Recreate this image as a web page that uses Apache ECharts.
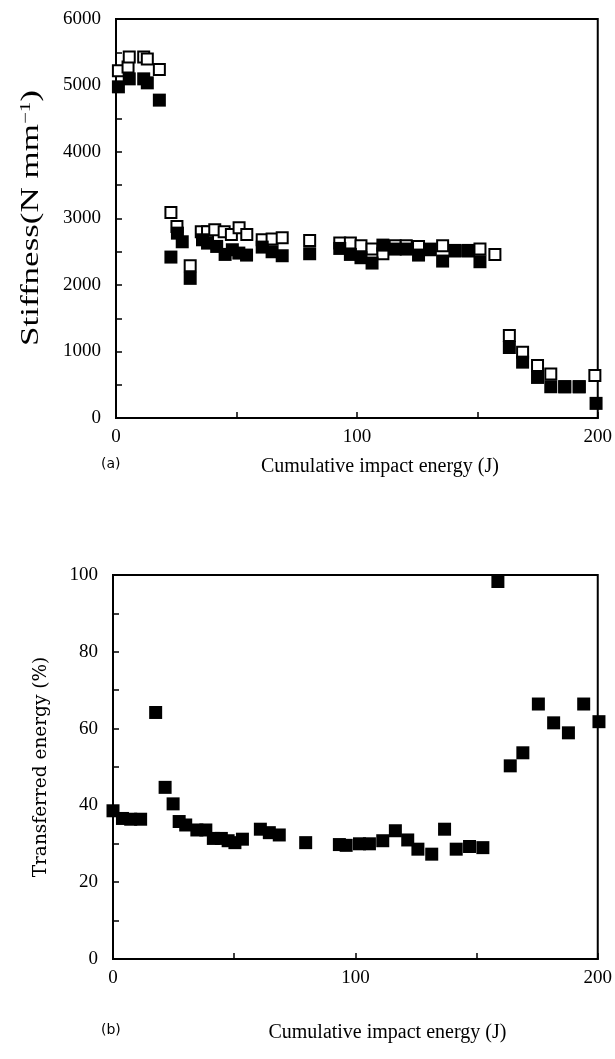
<!DOCTYPE html>
<html>
<head>
<meta charset="utf-8">
<script src="https://cdn.jsdelivr.net/npm/echarts@6/dist/echarts.min.js"></script>
<style>
html,body{margin:0;padding:0;background:#fff;}
#chart{width:615px;height:1059px;}
</style>
</head>
<body>
<div id="chart"></div>
<script>
// Panel (a): stiffness vs cumulative impact energy
const stiffnessOpen = [
  [1,5220],[5,5280],[5.5,5430],[11.5,5430],[13,5400],[18,5240],
  [22.8,3090],[25.3,2880],[30.8,2290],[35.4,2800],[38,2800],[41,2830],[44.9,2800],[47.9,2760],[51.1,2860],[54.3,2760],
  [60.7,2680],[64.8,2690],[69,2710],[80.4,2670],[92.9,2630],[97.3,2630],[101.7,2590],[106.3,2540],[110.8,2470],
  [115.9,2590],[120.5,2590],[125.6,2580],[130.4,2530],[135.6,2590],[140.8,2510],[146.3,2510],[151.1,2540],[157.3,2460],
  [163.3,1240],[168.8,990],[175,790],[180.5,660],[186.3,470],[192.3,470],[198.8,640]
];
const stiffnessFilled = [
  [1,4980],[5.5,5100],[11.5,5100],[13,5040],[18,4780],
  [22.8,2420],[25.5,2780],[27.5,2650],[30.8,2100],[35.9,2680],[38,2630],[41.8,2580],[45.3,2460],[48.3,2530],[51,2480],[54.2,2450],
  [60.7,2570],[64.8,2500],[69,2440],[80.4,2470],[92.9,2550],[97.3,2460],[101.7,2410],[106.3,2330],[110.8,2600],
  [115.9,2540],[120.5,2540],[125.6,2450],[130.4,2540],[135.6,2360],[140.8,2520],[146.3,2520],[151.1,2350],
  [163.3,1060],[168.8,840],[175,610],[180.5,470],[186.3,470],[192.3,470],[199.3,220]
];
// Panel (b): transferred energy vs cumulative impact energy
const transferred = [
  [0,38.6],[3.9,36.6],[7.3,36.4],[11.4,36.4],[17.6,64.2],[21.5,44.7],[24.8,40.4],[27.3,35.8],[30,34.9],
  [34.6,33.6],[38.3,33.6],[41.4,31.4],[44.7,31.4],[47.5,30.8],[50.3,30.3],[53.4,31.2],[60.8,33.8],[64.5,32.9],
  [68.6,32.3],[79.5,30.3],[93.4,29.8],[96.2,29.6],[101.7,30],[105.8,30],[111.3,30.8],[116.5,33.4],[121.6,31],
  [125.8,28.6],[131.5,27.3],[136.8,33.8],[141.6,28.6],[147.1,29.3],[152.6,29],[158.8,98.3],[163.9,50.3],
  [169.1,53.7],[175.5,66.4],[181.8,61.5],[187.9,58.9],[194.2,66.4],[200.5,61.8]
];
const xTitle = 'Cumulative impact energy (J)';
const yTitleA = ['Stiffness(N mm', '\u22121', ')'];
const yTitleB = 'Transferred energy (%)';
const panelTags = ['(a)', '(b)'];

const serif = 'Liberation Serif';
const chart = echarts.init(document.getElementById('chart'), null, {renderer:'canvas'});

function xAxis(gridIndex, gap, padLeft){
  return {
    gridIndex, type:'value', min:0, max:200, interval:100,
    name:xTitle, nameLocation:'middle', nameGap:gap,
    nameTextStyle:{fontFamily:serif, fontSize:20, color:'#000', padding:[0,0,0,padLeft]},
    axisLine:{show:true, onZero:false, lineStyle:{color:'#000', width:2}},
    axisTick:{show:true, inside:true, length:6, lineStyle:{color:'#000', width:1.5}},
    minorTick:{show:true, splitNumber:2, length:6, lineStyle:{color:'#000', width:1.5}},
    axisLabel:{fontFamily:serif, fontSize:19, color:'#000', margin:10, formatter:(v)=>String(v)},
    splitLine:{show:false}, minorSplitLine:{show:false}
  };
}
function yAxis(gridIndex, max, interval, name, gap, font, fs){
  return {
    gridIndex, type:'value', min:0, max, interval,
    name, nameLocation:'middle', nameGap:gap,
    nameTextStyle:{fontFamily:font, fontSize:fs, color:'#000'},
    axisLine:{show:true, onZero:false, lineStyle:{color:'#000', width:2}},
    axisTick:{show:true, inside:true, length:6, lineStyle:{color:'#000', width:1.5}},
    minorTick:{show:true, splitNumber:2, length:6, lineStyle:{color:'#000', width:1.5}},
    axisLabel:{fontFamily:serif, fontSize:19, color:'#000', margin:15, formatter:(v)=>String(v)},
    splitLine:{show:false}, minorSplitLine:{show:false}
  };
}

chart.setOption({
  animation:false,
  backgroundColor:'#fff',
  grid:[
    {left:116, top:19, width:482, height:399, show:true, borderColor:'#000', borderWidth:2},
    {left:113, top:575, width:486, height:384, show:true, borderColor:'#000', borderWidth:2}
  ],
  xAxis:[ xAxis(0, 39, 46), xAxis(1, 64, 64) ],
  yAxis:[
    yAxis(0, 6000, 1000, '', 74, serif, 21),
    yAxis(1, 100, 20, yTitleB, 62, 'DejaVu Serif', 18.5)
  ],
  series:[
    {type:'scatter', xAxisIndex:0, yAxisIndex:0, data:stiffnessOpen, symbol:'rect', symbolSize:11, clip:false,
      itemStyle:{color:'#fff', borderColor:'#000', borderWidth:2, opacity:1}},
    {type:'scatter', xAxisIndex:0, yAxisIndex:0, data:stiffnessFilled, symbol:'rect', symbolSize:13, clip:false,
      itemStyle:{color:'#000', opacity:1}},
    {type:'scatter', xAxisIndex:1, yAxisIndex:1, data:transferred, symbol:'rect', symbolSize:13, clip:false,
      itemStyle:{color:'#000', opacity:1}}
  ],
  graphic:[
    {type:'text', x:31, y:218, rotation:Math.PI/2, scaleX:1.4, scaleY:1,
      style:{
        text:'{a|' + yTitleA[0] + '}{s|' + yTitleA[1] + '}{a|' + yTitleA[2] + '}',
        align:'center', verticalAlign:'middle',
        rich:{
          a:{fontFamily:serif, fontSize:25, fill:'#000', color:'#000'},
          s:{fontFamily:serif, fontSize:15, fill:'#000', color:'#000', verticalAlign:'top'}
        }
      }},
    {type:'text', left:101, top:457, style:{text:panelTags[0], font:'14px "DejaVu Sans"', fill:'#000'}},
    {type:'text', left:101, top:1023, style:{text:panelTags[1], font:'14px "DejaVu Sans"', fill:'#000'}}
  ]
});
</script>
</body>
</html>
